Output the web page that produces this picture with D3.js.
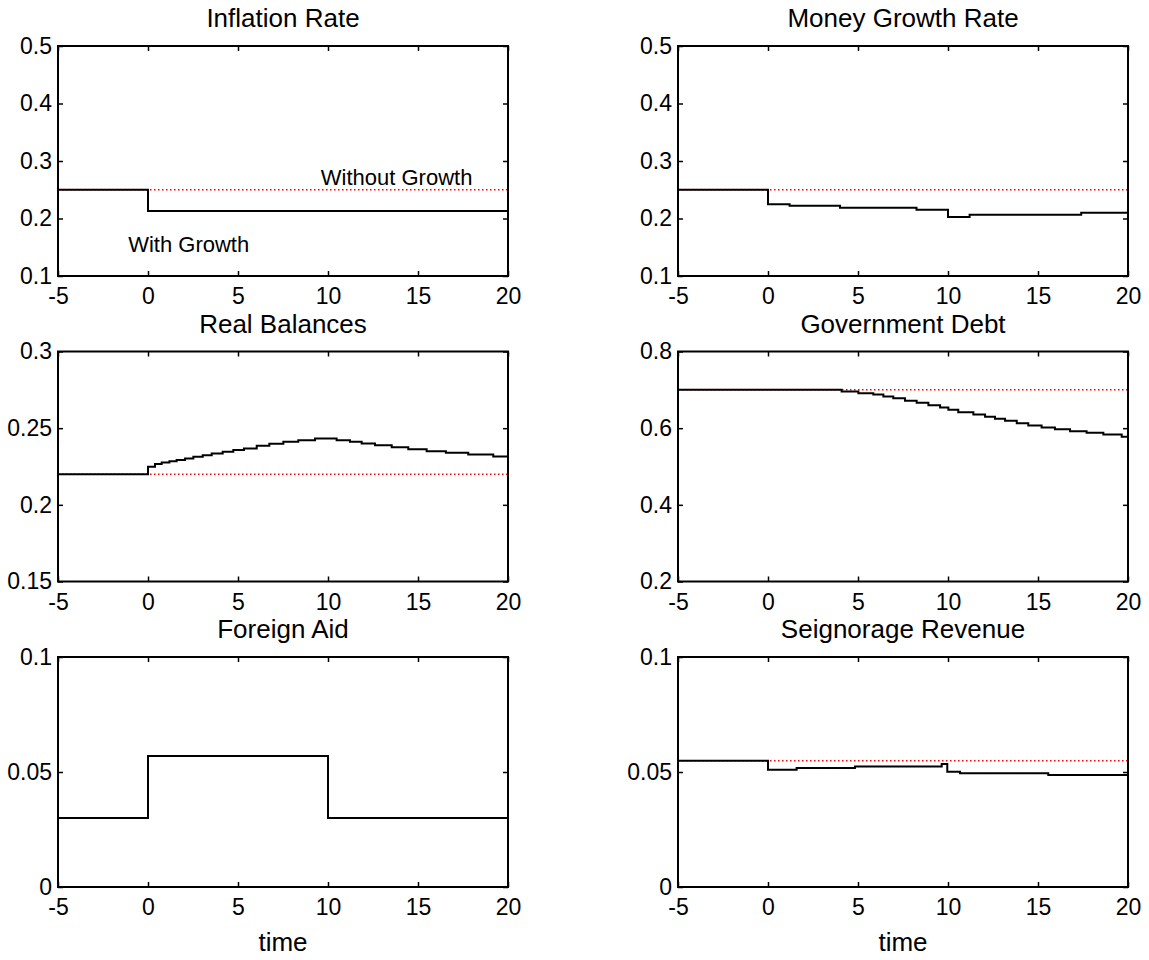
<!DOCTYPE html>
<html>
<head>
<meta charset="utf-8">
<script src="https://cdn.jsdelivr.net/npm/d3@7"></script>
<style>
  body { margin: 0; background: #fff; }
  svg { display: block; font-family: "Liberation Sans", Arial, sans-serif; }
</style>
</head>
<body>
<div id="chart"></div>
<script>
// x axis shared by all panels
var xTicks = [-5, 0, 5, 10, 15, 20];

// each series is a staircase: value v[i] holds from t[i] until t[i+1] (last one until 20)
var inflationT = [-5, 0];
var inflationV = [0.25, 0.213];
var inflationBase = 0.25;

var moneyT = [-5, 0, 1.2, 4.0, 8.25, 10.0, 11.2, 17.4];
var moneyV = [0.25, 0.225, 0.222, 0.2185, 0.2153, 0.2026, 0.2064, 0.2101];
var moneyBase = 0.25;

var balancesT = [-5, 0, 0.39, 0.76, 1.19, 1.59, 2.06, 2.52, 3.04, 3.54, 4.15, 4.74, 5.33, 6.04,
  6.74, 7.52, 8.35, 9.28, 10.48, 11.22, 11.87, 12.61, 13.54, 14.46, 15.48, 16.55, 17.79, 19.18];
var balancesV = [0.22, 0.2248, 0.2267, 0.2276, 0.2285, 0.2293, 0.2302, 0.2313, 0.2324, 0.2335, 0.2346,
  0.2357, 0.2367, 0.2385, 0.2398, 0.2411, 0.2422, 0.2433, 0.2422, 0.2411, 0.24, 0.2389, 0.2376,
  0.2363, 0.235, 0.2339, 0.2328, 0.2315];
var balancesBase = 0.22;

var debtT = [-5, 4.09, 5.02, 5.85, 6.41, 6.96, 7.61, 8.26, 8.91, 9.56, 10.02, 10.57, 11.41, 12.06,
  12.61, 13.17, 13.82, 14.46, 15.2, 15.94, 16.78, 17.7, 18.63, 19.65];
var debtV = [0.70, 0.6957, 0.6913, 0.6878, 0.6826, 0.6783, 0.6713, 0.6661, 0.66, 0.6539, 0.6478,
  0.6417, 0.6357, 0.6296, 0.6243, 0.6191, 0.613, 0.607, 0.6017, 0.5974, 0.5922, 0.5878, 0.5835, 0.5774];
var debtBase = 0.70;

var aidT = [-5, 0, 10];
var aidV = [0.03, 0.057, 0.03];

var seignT = [-5, 0, 1.59, 4.83, 9.65, 9.96, 10.67, 15.57];
var seignV = [0.0549, 0.051, 0.0517, 0.0524, 0.0535, 0.0501, 0.0495, 0.0487];
var seignBase = 0.0549;

var titles = ["Inflation Rate", "Money Growth Rate", "Real Balances",
  "Government Debt", "Foreign Aid", "Seignorage Revenue"];

var yDomains = [[0.1, 0.5], [0.1, 0.5], [0.15, 0.3], [0.2, 0.8], [0, 0.1], [0, 0.1]];
var yTicks = [
  [0.1, 0.2, 0.3, 0.4, 0.5],
  [0.1, 0.2, 0.3, 0.4, 0.5],
  [0.15, 0.2, 0.25, 0.3],
  [0.2, 0.4, 0.6, 0.8],
  [0, 0.05, 0.1],
  [0, 0.05, 0.1]
];

var panels = [
  { t: inflationT, v: inflationV, base: inflationBase },
  { t: moneyT, v: moneyV, base: moneyBase },
  { t: balancesT, v: balancesV, base: balancesBase },
  { t: debtT, v: debtV, base: debtBase },
  { t: aidT, v: aidV, base: null },
  { t: seignT, v: seignV, base: seignBase }
];

// layout of the 3x2 grid
var width = 1149, height = 960;
var colX = [58, 678];
var rowY = [46, 351.5, 657];
var pw = 450, ph = 230;

var svg = d3.select("#chart").append("svg")
  .attr("width", width)
  .attr("height", height);

panels.forEach(function(p, i) {
  var col = i % 2, row = Math.floor(i / 2);
  var g = svg.append("g")
    .attr("transform", "translate(" + colX[col] + "," + rowY[row] + ")");

  var x = d3.scaleLinear().domain([-5, 20]).range([0, pw]);
  var y = d3.scaleLinear().domain(yDomains[i]).range([ph, 0]);

  //inward ticks on all four sides like matlab
  g.append("g")
    .attr("transform", "translate(0," + ph + ")")
    .call(d3.axisBottom(x).tickValues(xTicks).tickSize(-5).tickPadding(12)
      .tickFormat(function(d) { return String(d); }));
  g.append("g")
    .call(d3.axisTop(x).tickValues(xTicks).tickSize(-5).tickFormat(""));
  g.append("g")
    .call(d3.axisLeft(y).tickValues(yTicks[i]).tickSize(-5).tickPadding(6)
      .tickFormat(d3.format("~g")));
  g.append("g")
    .attr("transform", "translate(" + pw + ",0)")
    .call(d3.axisRight(y).tickValues(yTicks[i]).tickSize(-5).tickFormat(""));

  g.selectAll(".domain").remove();
  g.selectAll(".tick line").attr("stroke", "#000").attr("stroke-width", 1.5);
  g.selectAll(".tick text")
    .attr("fill", "#000")
    .style("font-size", "23px")
    .style("font-family", "'Liberation Sans', Arial, sans-serif");

  // reference level without growth
  if (p.base !== null) {
    g.append("line")
      .attr("x1", x(-5)).attr("x2", x(20))
      .attr("y1", y(p.base)).attr("y2", y(p.base))
      .attr("stroke", "#ff0000")
      .attr("stroke-width", 1.5)
      .attr("stroke-dasharray", "1.5,2.5");
  }

  var pts = p.t.map(function(t, k) { return [t, p.v[k]]; });
  pts.push([20, p.v[p.v.length - 1]]);

  var line = d3.line()
    .x(function(d) { return x(d[0]); })
    .y(function(d) { return y(d[1]); })
    .curve(d3.curveStepAfter);

  g.append("path")
    .datum(pts)
    .attr("fill", "none")
    .attr("stroke", "#000")
    .attr("stroke-width", 2)
    .attr("d", line);

  g.append("rect")
    .attr("width", pw)
    .attr("height", ph)
    .attr("fill", "none")
    .attr("stroke", "#000")
    .attr("stroke-width", 2);

  g.append("text")
    .attr("x", pw / 2)
    .attr("y", -19)
    .attr("text-anchor", "middle")
    .style("font-size", "26px")
    .text(titles[i]);

  if (row === 2) {
    g.append("text")
      .attr("x", pw / 2)
      .attr("y", ph + 64)
      .attr("text-anchor", "middle")
      .style("font-size", "26px")
      .text("time");
  }

  if (i === 0) {
    g.append("text")
      .attr("x", x(9.6)).attr("y", y(0.258))
      .style("font-size", "22px")
      .text("Without Growth");
    g.append("text")
      .attr("x", x(-1.1)).attr("y", y(0.1416))
      .style("font-size", "22px")
      .text("With Growth");
  }
});
</script>
</body>
</html>
